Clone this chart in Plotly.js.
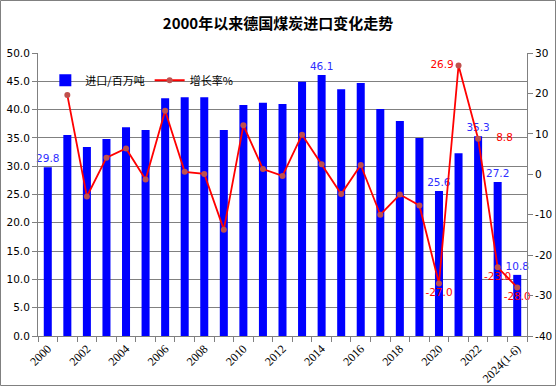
<!DOCTYPE html>
<html>
<head>
<meta charset="utf-8">
<script src="https://cdn.plot.ly/plotly-3.0.1.min.js"></script>
<style>
html,body{margin:0;padding:0;background:#fff;}
#chart{width:556px;height:386px;}
</style>
</head>
<body>
<div id="chart"></div>
<script>
const categories = ["2000","2001","2002","2003","2004","2005","2006","2007","2008","2009","2010","2011","2012","2013","2014","2015","2016","2017","2018","2019","2020","2021","2022","2023","2024(1-6)"];
const tickLabels = ["2000","","2002","","2004","","2006","","2008","","2010","","2012","","2014","","2016","","2018","","2020","","2022","","2024(1-6)"];
const imports = [29.8,35.5,33.4,34.8,36.9,36.4,42.0,42.2,42.2,36.4,40.8,41.2,41.0,44.9,46.1,43.6,44.7,40.1,38.0,35.0,25.6,32.3,35.3,27.2,10.8];
const growth = [null,19.6,-5.5,4.1,6.4,-1.3,15.7,0.6,0.1,-13.7,12.1,1.3,-0.4,9.8,2.5,-4.9,2.3,-10.0,-5.0,-7.7,-27.0,26.9,8.8,-23.0,-28.0];
const importLabels = ["29.8","","","","","","","","","","","","","","46.1","","","","","","25.6","","35.3","27.2","10.8"];
const growthLabels = ["","","","","","","","","","","","","","","","","","","","","-27.0","26.9","\u00a0\u00a0\u00a0\u00a08.8","-23.0","-28.0"];
const growthLabelPos = ["top center","top center","top center","top center","top center","top center","top center","top center","top center","top center","top center","top center","top center","top center","top center","top center","top center","top center","top center","top center","bottom center","middle left","middle right","bottom center","bottom center"];
const leftTicks = [0,5,10,15,20,25,30,35,40,45,50];
const leftTickText = ["0.0","5.0","10.0","15.0","20.0","25.0","30.0","35.0","40.0","45.0","50.0"];
const rightTicks = [-40,-30,-20,-10,0,10,20,30];
const rightTickText = ["-40","-30","-20","-10","0","10","20","30"];

const W = 556, H = 386, L = 38, R = 29, T = 53, B = 50;
const pw = W - L - R, ph = H - T - B;

const traces = [
  {
    type: 'bar', name: '进口/百万吨', x: categories, y: imports,
    marker: {color: '#0000FF'},
    text: importLabels, textposition: 'outside', cliponaxis: false, constraintext: 'none',
    textfont: {family: 'DejaVu Sans', size: 10.5, color: '#2E2EFF'},
    hoverinfo: 'x+y'
  },
  {
    type: 'scatter', mode: 'lines+markers+text', name: '增长率%', x: categories, y: growth,
    yaxis: 'y2', connectgaps: false,
    line: {color: '#FF0000', width: 1.8},
    marker: {color: '#C0504D', size: 6},
    text: growthLabels, textposition: growthLabelPos, cliponaxis: false,
    textfont: {family: 'DejaVu Sans', size: 10.5, color: '#FF0000'}
  }
];

const layout = {
  width: W, height: H,
  margin: {l: L, r: R, t: T, b: B, pad: 0},
  paper_bgcolor: '#fff', plot_bgcolor: '#fff',
  title: {text: '<b>2000年以来德国煤炭进口变化走势</b>', x: 0.5, xanchor: 'center', y: 1 - 24/H, yanchor: 'middle',
          font: {family: 'Noto Sans CJK SC', size: 15, color: '#000'}},
  bargap: 0.59,
  showlegend: true,
  legend: {orientation: 'h', x: 0.015, y: 0.955, xanchor: 'left', yanchor: 'top',
           bgcolor: 'rgba(0,0,0,0)', font: {family: 'Noto Sans CJK SC', size: 11, color: '#000'}, itemwidth: 30},
  xaxis: {
    type: 'category', tickmode: 'array', tickvals: categories, ticktext: tickLabels,
    tickson: 'boundaries', ticks: 'outside', ticklen: 5, tickcolor: '#808080',
    tickangle: -45, tickfont: {family: 'Liberation Serif', size: 12, color: '#000'},
    showline: true, linecolor: '#808080', linewidth: 1, showgrid: false, zeroline: false,
    range: [-0.5, 24.5]
  },
  yaxis: {
    range: [0, 50], tickmode: 'array', tickvals: leftTicks, ticktext: leftTickText,
    ticks: 'outside', ticklen: 5, tickcolor: '#808080',
    tickfont: {family: 'DejaVu Sans', size: 10.5, color: '#000'},
    showline: true, linecolor: '#808080', linewidth: 1,
    showgrid: true, gridcolor: '#808080', gridwidth: 1, zeroline: false
  },
  yaxis2: {
    overlaying: 'y', side: 'right', range: [-40, 30], tickmode: 'array', tickvals: rightTicks, ticktext: rightTickText,
    ticks: 'outside', ticklen: 5, tickcolor: '#808080',
    tickfont: {family: 'DejaVu Sans', size: 10.5, color: '#000'},
    showline: true, linecolor: '#808080', linewidth: 1,
    showgrid: false, zeroline: false
  },
  shapes: [
    {type: 'rect', xref: 'paper', yref: 'paper', layer: 'above',
     x0: (0.5 - L)/pw, x1: (W - 0.5 - L)/pw, y0: (H - T - B - (H - 0.5 - T))/ph, y1: (H - B - 0.5)/ph,
     line: {color: '#808080', width: 1}, fillcolor: 'rgba(0,0,0,0)'}
  ]
};

Plotly.newPlot('chart', traces, layout, {displayModeBar: false, staticPlot: true});
</script>
</body>
</html>
